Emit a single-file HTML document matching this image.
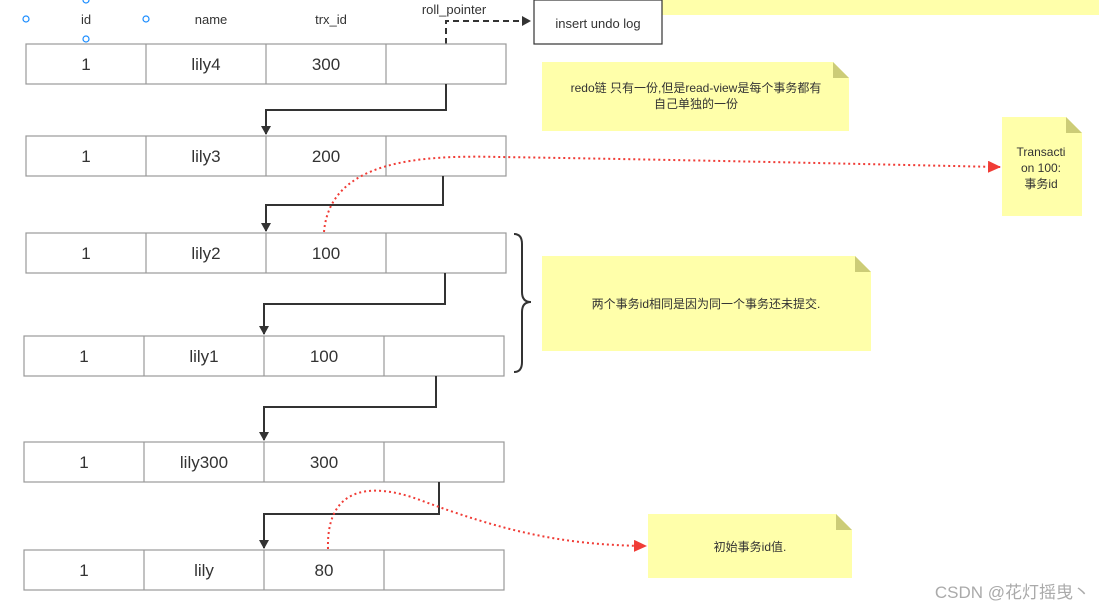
<!DOCTYPE html>
<html><head><meta charset="utf-8"><style>
body{margin:0;background:#fff;}
svg{display:block;font-family:"Liberation Sans","Noto Sans CJK SC",sans-serif;}
</style></head><body>
<svg width="1099" height="610" viewBox="0 0 1099 610" xmlns="http://www.w3.org/2000/svg">
<defs>
<marker id="ab" markerWidth="10" markerHeight="10" refX="8" refY="5" orient="auto" markerUnits="userSpaceOnUse"><path d="M0,0 L9,5 L0,10 Z" fill="#333"/></marker>
<marker id="ar" markerWidth="14" markerHeight="12" refX="12" refY="6" orient="auto" markerUnits="userSpaceOnUse"><path d="M0,0 L13,6 L0,12 Z" fill="#f03c36"/></marker>
</defs>
<!-- top yellow -->
<rect x="662" y="0" width="437" height="15" fill="#ffffaa"/>
<!-- header -->
<g fill="none" stroke="#1a8cff" stroke-width="1.2">
<circle cx="26" cy="19" r="3"/><circle cx="146" cy="19" r="3"/><circle cx="86" cy="0" r="3"/><circle cx="86" cy="39" r="3"/>
</g>
<g font-size="13" fill="#333" text-anchor="middle">
<text x="86" y="24">id</text><text x="211" y="24">name</text><text x="331" y="24">trx_id</text><text x="454" y="14">roll_pointer</text>
</g>
<rect x="534" y="0" width="128" height="44" fill="#fff" stroke="#333" stroke-width="1.2"/>
<text x="598" y="28" font-size="13" fill="#333" text-anchor="middle">insert undo log</text>
<path d="M446,44 V21 H530" fill="none" stroke="#333" stroke-width="2" stroke-dasharray="6,4" marker-end="url(#ab)"/>
<!-- rows -->
<g stroke="#999" stroke-width="1.2" fill="#fff">
<rect x="26" y="44" width="480" height="40"/><path d="M146,44V84M266,44V84M386,44V84"/>
<rect x="26" y="136" width="480" height="40"/><path d="M146,136V176M266,136V176M386,136V176"/>
<rect x="26" y="233" width="480" height="40"/><path d="M146,233V273M266,233V273M386,233V273"/>
<rect x="24" y="336" width="480" height="40"/><path d="M144,336V376M264,336V376M384,336V376"/>
<rect x="24" y="442" width="480" height="40"/><path d="M144,442V482M264,442V482M384,442V482"/>
<rect x="24" y="550" width="480" height="40"/><path d="M144,550V590M264,550V590M384,550V590"/>
</g>
<g font-size="17" fill="#333" text-anchor="middle">
<text x="86" y="70">1</text><text x="206" y="70">lily4</text><text x="326" y="70">300</text>
<text x="86" y="162">1</text><text x="206" y="162">lily3</text><text x="326" y="162">200</text>
<text x="86" y="259">1</text><text x="206" y="259">lily2</text><text x="326" y="259">100</text>
<text x="84" y="362">1</text><text x="204" y="362">lily1</text><text x="324" y="362">100</text>
<text x="84" y="468">1</text><text x="204" y="468">lily300</text><text x="324" y="468">300</text>
<text x="84" y="576">1</text><text x="204" y="576">lily</text><text x="324" y="576">80</text>
</g>
<!-- connectors -->
<g fill="none" stroke="#333" stroke-width="2" marker-end="url(#ab)">
<path d="M446,84V110H266V134"/>
<path d="M443,176V205H266V231"/>
<path d="M445,273V304H264V334"/>
<path d="M436,376V407H264V440"/>
<path d="M439,482V514H264V548"/>
</g>
<!-- brace -->
<path d="M514,234 Q522,234 522,244 V292 Q522,302 531,302 Q522,302 522,312 V362 Q522,372 514,372" fill="none" stroke="#333" stroke-width="2"/>
<!-- notes -->
<g fill="#ffffaa">
<path d="M542,62H833L849,78V131H542Z"/>
<path d="M1002,117H1066L1082,133V216H1002Z"/>
<path d="M542,256H855L871,272V351H542Z"/>
<path d="M648,514H836L852,530V578H648Z"/>
</g>
<g fill="#cccc77">
<path d="M833,62L849,78H833Z"/><path d="M1066,117L1082,133H1066Z"/><path d="M855,256L871,272H855Z"/><path d="M836,514L852,530H836Z"/>
</g>
<g font-size="12" fill="#333" text-anchor="middle">
<text x="696" y="92">redo链 只有一份,但是read-view是每个事务都有</text>
<text x="696" y="108">自己单独的一份</text>
<text x="1041" y="156">Transacti</text><text x="1041" y="172">on 100:</text><text x="1041" y="188">事务id</text>
<text x="706" y="308">两个事务id相同是因为同一个事务还未提交.</text>
<text x="750" y="551">初始事务id值.</text>
</g>
<!-- red dotted -->
<g fill="none" stroke="#f03c36" stroke-width="2" stroke-dasharray="2,3">
<path d="M324,232 C330,160 420,155 500,157 C700,160 900,165 1000,167" marker-end="url(#ar)"/>
<path d="M328,549 C326,480 380,485 420,500 C500,530 560,545 646,546" marker-end="url(#ar)"/>
</g>
<text x="1090" y="598" font-size="17" fill="#aaa" text-anchor="end">CSDN @花灯摇曳丶</text>
</svg>
</body></html>
